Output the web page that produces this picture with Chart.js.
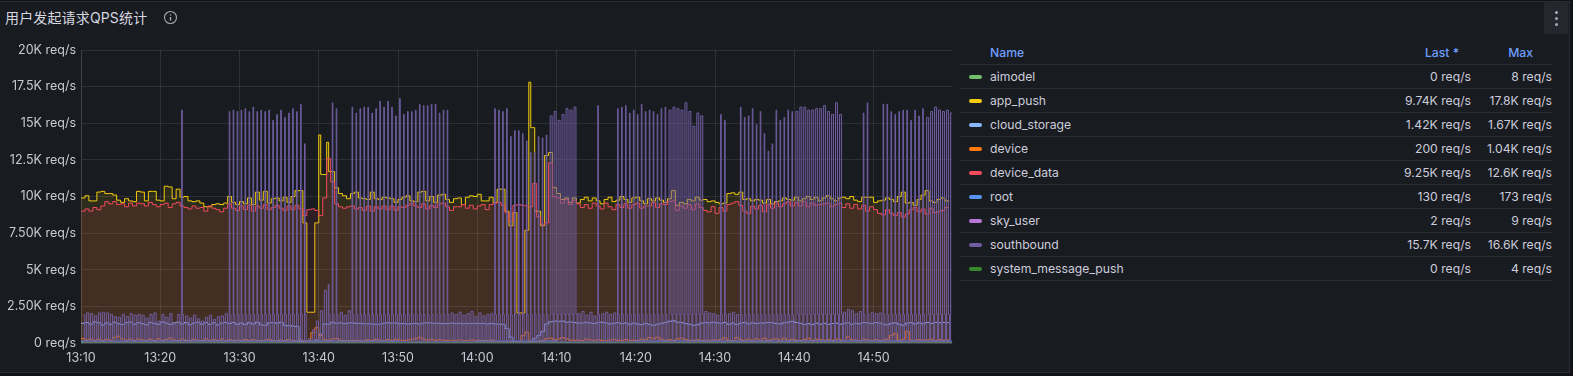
<!DOCTYPE html>
<html>
<head>
<meta charset="utf-8">
<title>用户发起请求QPS统计</title>
<script src="https://cdn.jsdelivr.net/npm/chart.js@4/dist/chart.umd.min.js"></script>
<style>
html, body { margin: 0; width: 1573px; height: 376px; overflow: hidden; background: #111217; font-family: Inter, "Noto Sans CJK SC", sans-serif; }
#panel { position: absolute; left: -1px; top: 1px; width: 1569px; height: 370px; background: #181b1f; border: 1px solid #2a2d33; }
#title { position: absolute; left: 5px; top: 9px; font-size: 14px; line-height: 18px; font-weight: 400; letter-spacing: 0.15px; color: #d6d7e0; white-space: nowrap; }
#info { position: absolute; left: 163px; top: 10px; }
#menu { position: absolute; left: 1544px; top: 2px; width: 24px; height: 32px; background: #24272d; border-radius: 2px; }
#menu i { position: absolute; left: 11px; width: 3px; height: 3px; border-radius: 50%; background: #a8a9b4; }
#wrap { position: absolute; left: 0; top: 0; width: 955px; height: 376px; }
#legend { position: absolute; left: 960px; top: 41px; width: 593px; border-collapse: collapse; font-size: 12.2px; color: #ccccdc; table-layout: fixed; }
#legend th { height: 23px; font-weight: 500; color: #6e9fff; border-bottom: 1px solid #2a2d33; padding: 0; }
#legend td { height: 23px; border-bottom: 1px solid #2a2d33; padding: 0; white-space: nowrap; }
#legend .name { text-align: left; padding-left: 30px; position: relative; }
#legend .num { text-align: right; padding-right: 1px; }
#legend th.num { padding-right: 13px; }
#legend th.num:last-child { padding-right: 20px; }
#legend .sw { position: absolute; left: 9px; top: 10px; width: 13px; height: 4px; border-radius: 2px; }
</style>
</head>
<body>
<div id="panel"></div>
<div id="title">用户发起请求QPS统计</div>
<svg id="info" width="15" height="15" viewBox="0 0 15 15" fill="none" stroke="#a4a6b0" stroke-width="1.1"><circle cx="7.5" cy="7.5" r="6"/><path d="M7.5 7v3.6M7.5 4.2v1.2" stroke-width="1.4"/></svg>
<div id="menu"><i style="top:9px"></i><i style="top:15px"></i><i style="top:21px"></i></div>
<div id="wrap"><canvas id="qpsChart"></canvas></div>
<table id="legend"></table>

<script>
// === 用户发起请求QPS统计 ===

const yTickLabels = { 0: '0 req/s', 2500: '2.50K req/s', 5000: '5K req/s', 7500: '7.50K req/s', 10000: '10K req/s', 12500: '12.5K req/s', 15000: '15K req/s', 17500: '17.5K req/s', 20000: '20K req/s' };
const xTickLabels = ['13:10', '13:20', '13:30', '13:40', '13:50', '14:00', '14:10', '14:20', '14:30', '14:40', '14:50'];

const legendNames = ['aimodel', 'app_push', 'cloud_storage', 'device', 'device_data', 'root', 'sky_user', 'southbound', 'system_message_push'];
const legendLast = ['0 req/s', '9.74K req/s', '1.42K req/s', '200 req/s', '9.25K req/s', '130 req/s', '2 req/s', '15.7K req/s', '0 req/s'];
const legendMax = ['8 req/s', '17.8K req/s', '1.67K req/s', '1.04K req/s', '12.6K req/s', '173 req/s', '9 req/s', '16.6K req/s', '4 req/s'];
const seriesColors = ['#73bf69', '#f2cc0c', '#8ab8ff', '#ff780a', '#f2495c', '#5794f2', '#b877d9', '#705da0', '#37872d'];

// 30s samples from 13:10
const appPush = [
  9900,10050,9700,9700,10300,10350,10200,10200,10100,9750,
  9600,9850,9700,9650,10350,10300,9700,10350,10350,9750,
  9700,10700,10650,9850,10500,9950,10000,9700,9650,9700,
  9550,9300,9300,9450,9500,9450,9550,10000,9600,9450,
  9650,9500,9900,9450,10300,9750,10350,9550,9850,9900,
  9700,9950,9600,10000,10400,10400,8200,2100,2100,8200,
  14200,11500,13700,11700,10600,10200,10050,9850,10200,10300,
  9900,9850,9800,10300,9850,9800,9950,9900,9850,9600,
  9800,9950,10050,9700,9650,10300,10350,9700,10000,9600,
  10100,10150,9800,9600,9850,9900,9450,9950,10050,10000,
  10150,9700,9700,9950,9600,10500,10500,9000,8000,8900,
  2050,2050,7700,17800,14700,9000,8000,12800,13000,10600,
  10200,9800,9900,9600,9900,9550,9800,9950,9700,9900,
  9700,9500,9800,9950,9650,9750,10000,9800,9600,9900,
  9950,9700,9500,9850,9700,9900,9750,9600,9850,10400,
  9400,9600,9500,9800,9700,9950,9750,9800,9650,9700,
  9600,9500,9550,10200,10250,10150,10300,9800,9850,9700,
  9800,9750,9550,9800,9500,9650,9700,9900,9800,9750,
  9950,9700,9850,10000,9800,9950,9700,9900,10050,9850,
  9700,9900,9950,9850,10000,9750,9650,9950,9950,9950,
  9600,9700,9750,9900,9800,9650,10000,10300,9550,9600,
  9400,9800,10100,10400,9700,9600,9800,9900,9700,9740
];
// slots where the app_push burst lasts only one 15s sample
const appPushBurstSlots = [60, 62, 113, 114];
const deviceData = [
  9000,9150,9000,9250,9100,9350,9650,9500,9650,9450,
  9500,9300,9550,9350,9550,9500,9350,9600,9450,9300,
  9450,9550,9250,9500,9600,9350,9250,9150,9350,9200,
  9250,9000,9350,9200,9100,8950,9200,9500,9200,9050,
  9350,9100,9400,9000,9350,9200,9450,9100,9250,9400,
  9200,9050,9350,9100,9400,9150,8700,9100,9150,9050,
  8700,9900,12600,11000,9500,9300,9200,9300,9350,9150,
  9250,9050,9350,9000,9300,9150,9350,9100,9350,9050,
  9300,9250,9400,9550,9350,9250,9500,9150,9400,9250,
  9500,9550,9300,9050,9300,9300,9450,9200,9400,9150,
  9350,9450,9100,9450,9550,9600,9400,8900,8300,9400,
  9450,9400,9350,9300,10900,8600,8100,8200,12300,10000,
  9900,9550,9800,9450,9750,9500,9250,9450,9200,9550,
  9350,9150,9550,9300,9100,9450,9250,9500,9200,9450,
  9550,9200,9350,9350,9600,9250,9500,9450,9650,9700,
  9050,9350,9200,9450,9100,9500,9250,9050,8950,9300,
  8850,9250,9000,9450,9550,9650,9400,9000,8850,9350,
  9150,9400,8950,9450,9200,9550,9300,9500,9650,9350,
  9600,9350,9650,9300,9550,9400,9450,9500,9550,9300,
  9450,9550,9250,9500,9200,9450,9150,9400,9000,9300,
  9100,8850,8750,9100,8850,8700,8900,8600,8800,9100,
  9250,8950,9150,8800,9200,8900,8950,9050,9250,9250
];
const cloudStorage = [
  1350,1400,1280,1440,1380,1230,1370,1280,1420,1310,
  1260,1380,1430,1280,1390,1320,1240,1410,1340,1280,
  1440,1360,1270,1370,1420,1300,1400,1240,1360,1420,
  1290,1390,1270,1380,1230,1350,1410,1330,1400,1280,
  1360,1260,1390,1290,1420,1240,1210,1370,1400,1350,
  1420,1200,1180,1160,1130,90,40,30,40,200,
  600,1300,1280,1420,1350,1370,1330,1360,1380,1340,
  1350,1310,1320,1300,1280,1290,1350,1380,1360,1370,
  1310,1330,1290,1320,1340,1300,1360,1380,1370,1340,
  1350,1320,1330,1360,1340,1350,1310,1340,1330,1350,
  1320,1340,1300,1330,1300,1290,1280,1000,400,80,
  30,20,20,30,300,500,800,1300,1450,1500,
  1480,1500,1420,1440,1400,1350,1370,1410,1360,1330,
  1390,1420,1370,1300,1350,1390,1320,1370,1280,1360,
  1300,1250,1340,1270,1210,1280,1340,1390,1480,1520,
  1420,1400,1330,1280,1210,1250,1360,1400,1370,1420,
  1380,1340,1400,1280,1360,1260,1350,1400,1300,1380,
  1330,1370,1360,1400,1380,1330,1300,1380,1420,1480,
  1400,1350,1270,1320,1260,1360,1280,1350,1270,1330,
  1360,1290,1340,1380,1280,1350,1310,1400,1380,1320,
  1400,1360,1290,1240,1340,1380,1280,1210,1350,1390,
  1300,1380,1320,1400,1340,1410,1380,1400,1390,1420
];
const device = [
  300,210,270,170,260,170,250,190,380,460,
  280,190,270,170,270,210,180,270,170,290,
  170,250,340,210,170,270,180,170,260,190,
  170,280,170,240,180,270,160,230,170,200,
  170,240,170,230,180,160,200,250,170,150,
  200,160,230,170,140,190,120,160,700,1040,
  500,220,170,280,310,190,150,170,140,190,
  160,150,220,170,260,190,160,240,170,270,
  210,170,200,250,310,390,260,190,260,180,
  230,190,170,190,160,210,150,170,220,160,
  190,150,170,200,140,90,60,60,70,50,
  60,500,750,100,60,120,180,300,330,220,
  280,370,290,200,180,200,170,270,210,170,
  230,180,160,200,260,170,190,240,160,190,
  170,260,240,380,300,400,250,180,230,170,
  280,330,230,190,180,230,170,200,180,210,
  190,240,360,190,170,380,230,180,270,170,
  290,190,330,170,250,290,190,330,180,250,
  190,170,240,330,180,260,240,190,230,170,
  270,210,180,420,230,190,170,270,210,180,
  230,170,200,260,520,640,190,250,800,200,
  180,240,190,210,260,170,240,190,210,200
];
const southboundPeaks = [
  1900,2050,2000,1850,2050,2100,2050,1950,1800,1750,
  1950,1800,2000,1900,1950,1900,1700,1950,2050,1500,
  1950,1750,2000,1300,1950,15900,1850,1700,1900,1650,
  1500,1750,1900,1600,1800,1850,2000,15800,15900,15800,
  15900,16000,15800,16100,15800,15900,15800,15900,15200,15600,
  15900,15400,15700,16000,15800,16300,13600,300,900,1500,
  2200,3600,4000,16400,16000,2100,1900,2200,16100,15700,
  16000,16100,16100,15700,16000,16500,16100,16500,16100,15500,
  16700,15600,15800,15800,15900,16300,16200,16200,16300,16300,
  15700,15900,15900,2050,1950,2100,1900,2000,2150,1800,
  2050,1850,1950,2000,16000,15900,15800,16000,14100,14500,
  14500,14300,13800,13000,13000,14100,14000,14200,15500,15800,
  15200,15600,16000,15900,16100,2000,2150,1900,2100,1850,
  16200,2000,2100,1950,2050,16000,16100,16200,15700,15900,
  15600,16300,15800,15900,15800,15600,16000,16100,15900,16100,
  16000,15900,16400,15800,14800,15700,15500,2150,2050,2000,
  1900,15600,15200,2000,2100,1950,16100,15400,15500,16000,
  14900,15800,14300,13100,13600,15900,15200,15400,15900,15800,
  15800,16100,16100,15900,15900,16000,16000,16200,15800,15600,
  16400,15600,2100,2300,2200,2000,2150,15700,16400,2100,
  2000,2050,16300,16300,15800,15600,15800,15900,15900,15200,
  15900,15500,16000,15400,15800,16100,15900,15800,15900,15700
];
const southboundLows = [
  40,60,30,50,20,70,40,50,30,60,
  20,40,30,60,20,50,40,30,60,20,
  40,30,50,20,60,40,30,50,20,60,
  30,40,20,60,30,50,40,50,30,60,
  20,50,40,60,30,40,20,50,30,60,
  40,20,50,30,60,20,30,20,10,20,
  20,30,20,30,40,30,50,40,60,30,
  50,30,60,20,50,40,30,60,30,40,
  20,60,40,50,30,60,20,40,30,50,
  30,60,40,40,20,50,30,60,20,40,
  50,30,40,20,60,40,30,20,10,20,
  10,10,10,10,20,20,30,30,40,30,
  60,40,50,20,60,30,40,30,50,20,
  50,40,60,30,40,20,60,30,50,40,
  30,60,20,40,30,50,20,60,40,50,
  30,60,30,40,20,50,40,60,30,50,
  20,60,30,40,30,60,40,50,20,50,
  30,60,30,40,40,60,20,50,30,50,
  20,60,40,40,30,60,30,50,20,50,
  40,30,60,40,20,60,30,50,40,30,
  50,20,60,40,40,30,60,30,50,20,
  60,40,40,30,50,20,60,30,40,40
];
// level the high bursts fall back to before dropping to the low sample
const southboundShoulder = 1950;
// slot ranges where southbound stays high for a full sample instead of a blip
const southboundWideRanges = [[0, 9], [118, 124], [148, 156], [180, 191], [213, 219]];

// quiet series, read every 10 minutes
const quietMinutes = [0, 10, 20, 30, 40, 50, 60, 70, 80, 90, 100, 110];
const root = [130, 140, 135, 130, 60, 130, 50, 135, 130, 140, 135, 130];
const skyUser = [3, 2, 4, 2, 1, 3, 1, 2, 3, 2, 4, 2];
const aimodel = [0, 1, 0, 0, 2, 0, 1, 0, 0, 1, 0, 0];
const systemMessagePush = [0, 0, 1, 0, 0, 1, 0, 0, 0, 1, 0, 0];

const SLOT_MIN = 0.5;
const slotPoints = vals => vals.map((v, i) => ({ x: i * SLOT_MIN, y: v }));
const quietPoints = vals => vals.map((v, i) => ({ x: quietMinutes[i], y: v }));

function appPushPoints() {
    const pts = [];
    appPush.forEach((v, i) => {
        pts.push({ x: i * SLOT_MIN, y: v });
        if (appPushBurstSlots.includes(i)) pts.push({ x: (i + 0.5) * SLOT_MIN, y: appPush[i + 1] });
    });
    return pts;
}

// one high sample, then a shoulder and a low sample inside every 30s slot
function southboundPoints() {
    const pts = [];
    southboundPeaks.forEach((v, i) => {
        const t = (i + 0.4) * SLOT_MIN;
        const wide = southboundWideRanges.some(r => i >= r[0] && i <= r[1]);
        const w = wide ? 0.25 : 0.08;
        pts.push({ x: t, y: v });
        if (v > southboundShoulder * 2) {
            pts.push({ x: t + w, y: southboundShoulder });
            pts.push({ x: t + w + 0.14, y: southboundLows[i] });
        } else {
            pts.push({ x: t + 0.28, y: southboundLows[i] });
        }
    });
    return pts;
}

const seriesPoints = [
    quietPoints(aimodel), appPushPoints(), slotPoints(cloudStorage), slotPoints(device),
    slotPoints(deviceData), quietPoints(root), quietPoints(skyUser), southboundPoints(), quietPoints(systemMessagePush)
];

document.getElementById('legend').innerHTML =
    '<colgroup><col style="width:413px"><col style="width:99px"><col style="width:81px"></colgroup>' +
    '<tr><th class="name">Name</th><th class="num">Last *</th><th class="num">Max</th></tr>' +
    legendNames.map((n, i) => `<tr><td class="name"><span class="sw" style="background:${seriesColors[i]}"></span>${n}</td><td class="num">${legendLast[i]}</td><td class="num">${legendMax[i]}</td></tr>`).join('');

new Chart(document.getElementById('qpsChart').getContext('2d'), {
    type: 'line',
    data: {
        datasets: legendNames.map((n, i) => ({
            label: n,
            data: seriesPoints[i],
            borderColor: seriesColors[i],
            backgroundColor: seriesColors[i] + '1a',
            borderWidth: 1,
            pointRadius: 0,
            stepped: true,
            fill: 'origin',
            order: legendNames.length - i
        }))
    },
    options: {
        responsive: true, maintainAspectRatio: false, animation: false,
        layout: { autoPadding: false, padding: { top: 50, right: 3, left: 0, bottom: 0 } },
        plugins: { legend: { display: false }, tooltip: { enabled: false } },
        scales: {
            x: {
                type: 'linear', min: 0, max: 109.9,
                afterFit: s => { s.height = 33; },
                afterBuildTicks: s => { s.ticks = xTickLabels.map((_, i) => ({ value: i * 10 })); },
                grid: { color: 'rgba(204,204,220,0.12)', drawTicks: false },
                border: { color: 'rgba(204,204,220,0.12)' },
                ticks: { color: '#c8c9d4', font: { family: 'Inter', size: 12.5 }, padding: 8, maxRotation: 0, autoSkip: false, callback: v => xTickLabels[v / 10] }
            },
            y: {
                min: 0, max: 20000,
                afterFit: s => { s.width = 81; },
                grid: { color: 'rgba(204,204,220,0.12)', drawTicks: false },
                border: { color: 'rgba(204,204,220,0.12)' },
                ticks: { color: '#c8c9d4', font: { family: 'Inter', size: 12.5 }, padding: 5, stepSize: 2500, callback: v => yTickLabels[v] }
            }
        }
    }
});
</script>
</body>
</html>
